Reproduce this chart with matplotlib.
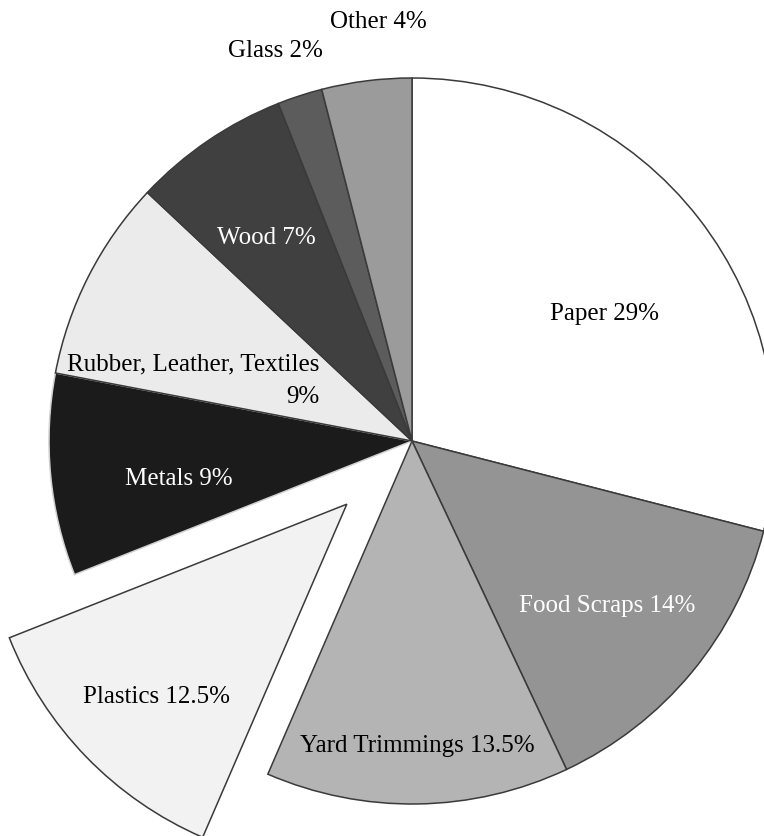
import matplotlib
matplotlib.use('Agg')
import matplotlib.pyplot as plt

# waste composition
categories = ['Paper', 'Food Scraps', 'Yard Trimmings', 'Plastics', 'Metals',
              'Rubber, Leather, Textiles', 'Wood', 'Glass', 'Other']
shares = [29, 14, 13.5, 12.5, 9, 9, 7, 2, 4]
labels = ['Paper 29%', 'Food Scraps 14%', 'Yard Trimmings 13.5%', 'Plastics 12.5%',
          'Metals 9%', 'Rubber, Leather, Textiles\n9%', 'Wood 7%', 'Glass 2%', 'Other 4%']
explode = [0, 0, 0, 0.25, 0, 0, 0, 0, 0]

colors = ['#ffffff', '#949494', '#b4b4b4', '#f2f2f2', '#1b1b1b',
          '#ebebeb', '#404040', '#5c5c5c', '#9b9b9b']
text_colors = ['black', 'white', 'black', 'black', 'white',
               'black', 'white', 'black', 'black']
# label anchor points (pie radius = 1), baseline of last line
label_pos = [(0.529, 0.333), (0.537, -0.471), (0.014, -0.857), (-0.705, -0.722),
             (-0.642, -0.121), (-0.256, 0.105), (-0.402, 0.543), (-0.375, 1.058),
             (-0.094, 1.138)]
label_ha = ['center', 'center', 'center', 'center', 'center', 'right',
            'center', 'center', 'center']

plt.rcParams['font.family'] = ['Liberation Serif', 'DejaVu Serif']

fig = plt.figure(figsize=(7.64, 8.36), dpi=100)
ax = fig.add_axes([0, 0, 1, 1])

wedges, _ = ax.pie(shares, colors=colors, explode=explode, startangle=90,
                   counterclock=False,
                   wedgeprops=dict(edgecolor='#3a3a3a', linewidth=1.1))
wedges[4].set_edgecolor('#d0d0d0')

for lab, (x, y), tc, ha in zip(labels, label_pos, text_colors, label_ha):
    ax.text(x, y, lab, color=tc, fontsize=18, ha=ha, va='baseline',
            multialignment='right', linespacing=1.6)

r_px = 363.0
ax.set_xlim(-412 / r_px, (764 - 412) / r_px)
ax.set_ylim((441 - 836) / r_px, 441 / r_px)
ax.set_aspect('equal', adjustable='box')
ax.axis('off')

fig.savefig('out.png', dpi=100)
